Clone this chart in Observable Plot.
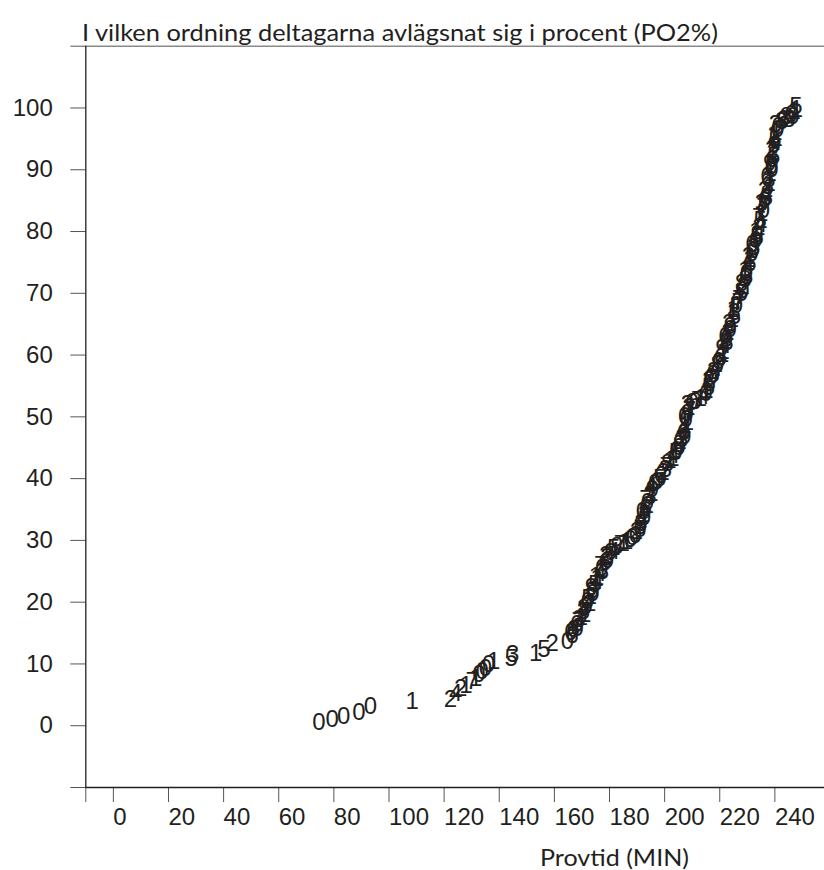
<!DOCTYPE html>
<html><head><meta charset="utf-8">
<script src="https://cdn.jsdelivr.net/npm/d3@7"></script>
<script src="https://cdn.jsdelivr.net/npm/@observablehq/plot@0.6"></script>
<style>body{margin:0;background:#fff} svg{display:block}</style>
</head><body><div id="chart"></div>
<script>
// Provtid (minutes) of each participant leaving
const minutes = [
  74.6, 79.4, 83.6, 89.1, 93.3, 108.4, 122.3, 124.2, 126.0, 127.9,
  130.2, 131.4, 132.6, 133.8, 135.0, 136.2, 138.0, 144.3, 144.9, 153.2,
  156.2, 159.2, 164.7, 166.5, 168.3,
  166.0, 167.2, 168.6, 169.8, 170.5, 171.6, 172.0, 173.1, 173.8, 174.6,
  175.4, 176.5, 177.2, 178.3, 179.1, 180.4, 181.5, 184.0, 186.2, 188.3,
  189.8, 191.0, 191.8, 192.4, 193.0, 193.8, 194.7, 195.6, 196.4, 198.2,
  199.5, 200.6, 201.9, 203.2, 204.3, 205.3, 206.2, 206.9, 207.4, 207.8,
  208.3, 208.8, 210.0, 212.0, 214.0, 215.3, 216.2, 216.9, 217.8, 219.1,
  220.3, 221.2, 221.9, 222.4, 223.0, 223.8, 224.6, 225.2, 226.0, 226.9,
  227.8, 228.5, 229.1, 229.7, 230.2, 230.8, 231.6, 232.3, 233.0, 233.6,
  234.2, 234.7, 235.2, 235.7, 236.3, 236.8, 237.3, 237.8, 238.3, 238.7,
  239.0, 239.4, 239.7, 240.0, 240.4, 241.2, 242.5, 244.2, 245.8, 247.0,
  247.6,
  166.8, 168.2, 168.9, 171.0, 170.6, 172.8, 172.2, 174.0, 173.4, 175.5,
  174.9, 177.4, 176.8, 179.2, 178.6, 181.4, 182.6, 185.0, 187.4, 189.4,
  190.9, 191.4, 192.8, 191.9, 193.8, 193.2, 195.4, 195.0, 197.3, 198.6,
  200.3, 201.0, 203.0, 203.9, 205.2, 205.6, 207.4, 206.6, 208.3, 207.3,
  209.0, 208.3, 211.0, 213.0, 215.0, 215.9, 216.0, 217.6, 218.6, 219.6,
  221.1, 220.8, 222.6, 221.9, 223.8, 223.2, 225.3, 224.9, 226.7, 226.3,
  228.4, 227.9, 229.8, 229.0, 230.9, 230.4, 232.2, 231.8, 233.6, 233.0,
  234.8, 234.1, 235.8, 235.1, 236.9, 236.2, 237.9, 237.1, 238.9, 238.1,
  239.6, 238.8, 240.3, 239.5, 241.0, 240.2, 243.0, 245.0, 246.6, 247.8
];
// cumulative percent (PO2%)
const percent = [
  0.5, 1.0, 1.5, 2.1, 3.1, 3.9, 4.2, 5.3, 6.1, 6.6,
  7.2, 7.7, 8.3, 8.8, 9.3, 9.9, 10.4, 10.9, 11.5, 11.8,
  12.3, 13.4, 13.6, 14.7, 15.8,
  15.2, 16.0, 16.9, 17.6, 18.5, 19.4, 20.2, 21.0, 22.0, 22.9,
  23.8, 24.6, 25.5, 26.4, 27.2, 28.0, 28.7, 29.3, 29.8, 30.5,
  31.4, 32.3, 33.2, 34.2, 35.2, 36.1, 37.2, 38.3, 39.2, 40.0,
  41.1, 42.0, 42.9, 43.8, 44.6, 45.5, 46.4, 47.5, 48.6, 49.6,
  50.6, 51.6, 52.3, 52.7, 53.3, 54.3, 55.4, 56.4, 57.4, 58.5,
  59.6, 60.6, 61.6, 62.6, 63.7, 64.7, 65.8, 66.9, 68.0, 69.0,
  70.0, 71.1, 72.2, 73.3, 74.4, 75.5, 76.5, 77.5, 78.6, 79.6,
  80.7, 81.8, 82.9, 84.0, 85.1, 86.2, 87.3, 88.4, 89.5, 90.6,
  91.7, 92.8, 93.9, 95.0, 96.1, 97.1, 97.9, 98.6, 98.9, 99.4,
  100.3,
  15.6, 16.4, 17.3, 18.0, 19.0, 19.8, 20.6, 21.5, 22.4, 23.3,
  24.2, 25.0, 25.9, 26.8, 27.6, 28.3, 29.0, 29.6, 30.1, 30.9,
  31.8, 32.7, 33.7, 34.7, 35.6, 36.6, 37.7, 38.8, 39.6, 40.6,
  41.5, 42.4, 43.3, 44.2, 45.0, 46.0, 46.9, 48.0, 49.1, 50.1,
  51.1, 52.0, 52.5, 53.0, 53.8, 54.8, 55.9, 56.9, 57.9, 59.0,
  60.1, 61.1, 62.1, 63.1, 64.2, 65.2, 66.3, 67.4, 68.5, 69.5,
  70.5, 71.6, 72.7, 73.8, 74.9, 76.0, 77.0, 78.0, 79.1, 80.1,
  81.2, 82.3, 83.4, 84.5, 85.6, 86.7, 87.8, 88.9, 90.0, 91.1,
  92.2, 93.3, 94.4, 95.5, 96.6, 97.3, 98.2, 98.2, 98.6, 99.8
];
// digit printed for each participant
const digits = [
  "0","0","0","0","0","1","2","4","2","1",
  "7","1","0","0","0","0","1","5","3","1",
  "5","2","0","6","0",
  "0","4","7","1","3","9","0","2","8","5",
  "1","4","0","6","3","9","5","7","1","0",
  "2","8","4","1","6","0","3","9","0","5",
  "2","7","1","4","0","8","3","6","1","0",
  "9","2","0","7","4","1","5","0","3","8",
  "6","1","4","0","2","9","1","3","0","7",
  "5","2","8","0","4","1","6","3","0","9",
  "2","5","1","7","0","4","8","3","1","0",
  "6","2","9","5","1","0","3","8","6","1",
  "5",
  "6","0","3","1","8","2","5","0","9","4",
  "1","3","7","0","2","4","8","1","6","0",
  "5","3","9","0","2","7","1","4","0","6",
  "3","8","1","5","0","2","9","4","1","0",
  "7","3","6","1","0","5","2","8","4","0",
  "1","9","3","6","0","2","5","1","7","4",
  "0","8","3","1","6","2","9","0","5","1",
  "4","7","0","3","8","2","1","6","0","9",
  "5","2","4","1","0","3","6","8","9","1"
];
const xTicks = [-10, 0, 20, 40, 60, 80, 100, 120, 140, 160, 180, 200, 220, 240];
const yTicks = [-10, 0, 10, 20, 30, 40, 50, 60, 70, 80, 90, 100, 110];
const titleText = "I vilken ordning deltagarna avlägsnat sig i procent (PO2%)";
const xLabelText = "Provtid (MIN)";

const data = minutes.map((m, i) => ({m, p: percent[i], d: digits[i]}));
const ink = "#231f20";

const chart = Plot.plot({
  width: 824, height: 870,
  marginLeft: 85.3, marginRight: 0, marginTop: 45.7, marginBottom: 83,
  style: {fontFamily: "'Liberation Sans', Arial, sans-serif", background: "#fff", color: ink},
  x: {domain: [-10, 258]},
  y: {domain: [-10, 110]},
  marks: [
    Plot.ruleY([110], {stroke: "#8a8a8a", strokeWidth: 1.6}),
    Plot.axisY({ticks: yTicks, tickSize: 15, tickPadding: 18, fontSize: 24, label: null,
      stroke: "#555", fill: ink, tickFormat: d => (d < 0 || d > 100) ? "" : d}),
    Plot.axisX({ticks: xTicks, tickSize: 15, tickPadding: 5, fontSize: 24, label: null,
      textAnchor: "start", stroke: "#555", fill: ink, tickFormat: d => d < 0 ? "" : d}),
    Plot.ruleY([-10], {stroke: ink, strokeWidth: 1.3}),
    Plot.ruleX([-10], {stroke: ink, strokeWidth: 1.3}),
    Plot.text(data, {x: "m", y: "p", text: "d", fontSize: 24, fill: ink})
  ]
});

const svg = d3.select(chart);
svg.append("text").text(titleText)
  .attr("x", 82).attr("y", 41).attr("text-anchor", "start")
  .attr("font-family", "Lato, 'Open Sans', sans-serif").attr("font-size", 23)
  .attr("fill", ink).attr("textLength", 636).attr("lengthAdjust", "spacingAndGlyphs");
svg.append("text").text(xLabelText)
  .attr("x", 540).attr("y", 866).attr("text-anchor", "start")
  .attr("font-family", "Lato, 'Open Sans', sans-serif").attr("font-size", 23)
  .attr("fill", ink).attr("textLength", 149).attr("lengthAdjust", "spacingAndGlyphs");

document.getElementById("chart").appendChild(chart);
</script>
</body></html>
